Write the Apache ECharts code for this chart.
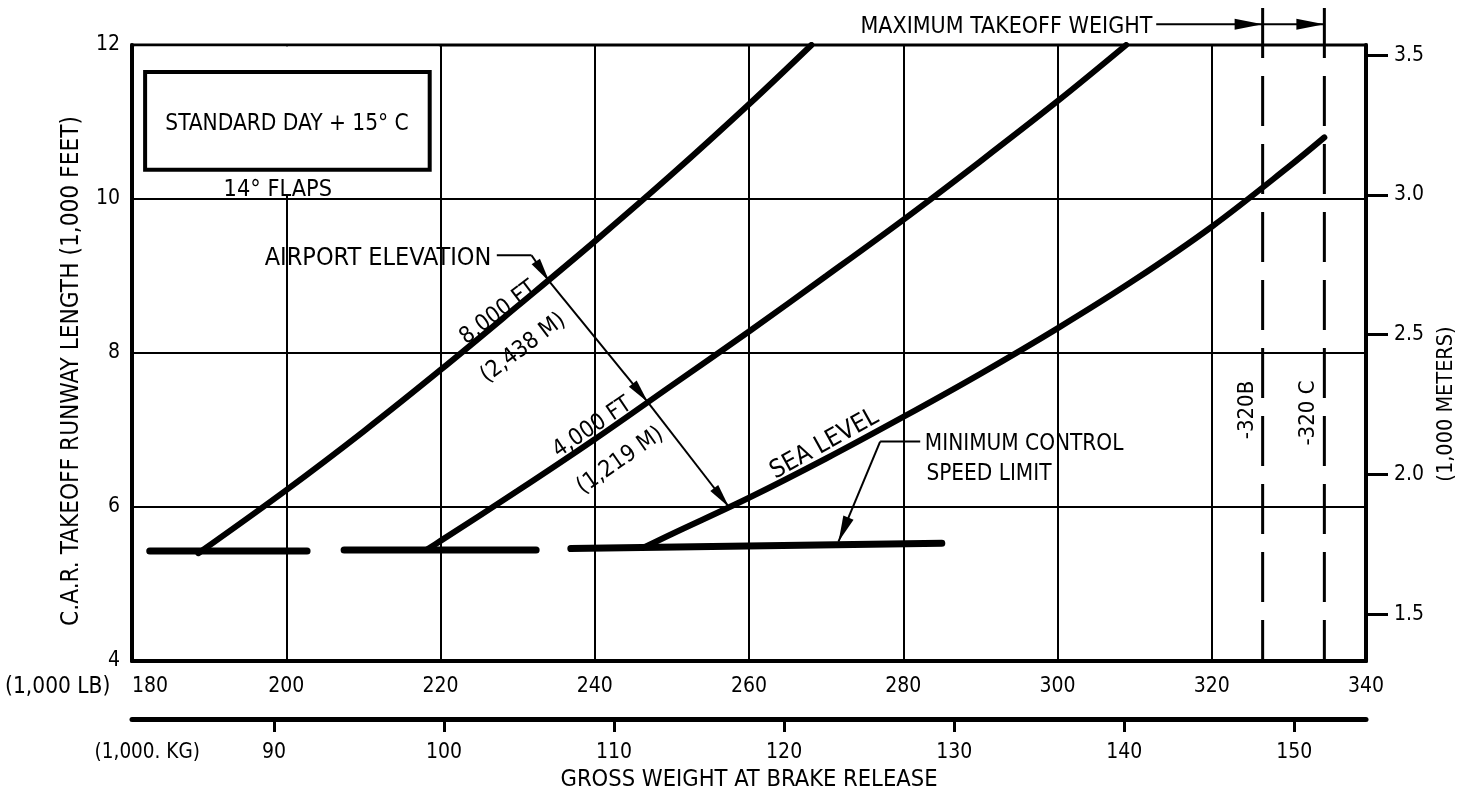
<!DOCTYPE html>
<html><head><meta charset="utf-8">
<script src="https://cdn.jsdelivr.net/npm/echarts@6/dist/echarts.min.js"></script>
<style>html,body{margin:0;padding:0;background:#fff}#c{width:1466px;height:791px}</style>
</head><body><div id="c"></div>
<script>
const FONT = '"DejaVu Sans Condensed","Liberation Sans Narrow",sans-serif';

// ---- axes / ticks ----
const lbMin = 180, lbMax = 340, lbStep = 20;          // 1,000 LB
const ftMin = 4, ftMax = 12, ftStep = 2;               // 1,000 FT
const LB_PER_KG = 2.20462;
const kgTicks = [90, 100, 110, 120, 130, 140, 150];    // 1,000 KG
const meterTicks = [1.5, 2.0, 2.5, 3.0, 3.5];          // 1,000 M (as drawn)
const meterMin = 1.333, meterMax = 3.536;              // right scale extent as drawn

// ---- curves: [gross weight 1,000 lb, runway length 1,000 ft] ----
const elev8000 = [[188.6,5.40],[200,6.22],[210,6.98],[220,7.78],[230,8.61],[240,9.45],[250,10.32],[260,11.23],[268.1,12.0]];
const elev4000 = [[218.3,5.45],[220,5.56],[230,6.21],[240,6.88],[250,7.58],[260,8.28],[270,9.0],[280,9.73],[290,10.49],[300,11.27],[308.9,12.0]];
const seaLevel = [[246.5,5.48],[250,5.65],[260,6.12],[270,6.63],[280,7.17],[290,7.73],[300,8.32],[310,8.95],[320,9.64],[330,10.42],[334.6,10.80]];
const minCtrlA = [[182.3,5.43],[202.7,5.43]];
const minCtrlB = [[207.5,5.44],[232.4,5.44]];
const minCtrlC = [[236.9,5.46],[285.0,5.53]];
const mtow320B = 326.6, mtow320C = 334.6;

const chart = echarts.init(document.getElementById('c'), null, {renderer: 'canvas'});

const curve = (name, data) => ({
  name, type: 'line', data, xAxisIndex: 0, yAxisIndex: 0, symbol: 'none', smooth: 0.35,
  lineStyle: {color: '#000', width: 6, cap: 'round'}, z: 5
});
const flat = (name, data) => ({
  name, type: 'line', data, xAxisIndex: 0, yAxisIndex: 0, symbol: 'none',
  lineStyle: {color: '#000', width: 7, cap: 'round'}, z: 5
});
const mtow = (name, x) => ({
  name, type: 'line', data: [[x, 12.48], [x, ftMin]], xAxisIndex: 0, yAxisIndex: 0, symbol: 'none', clip: false,
  lineStyle: {color: '#000', width: 3, type: [50, 18]}, z: 4
});

const s8000 = curve('8,000 FT', elev8000);
s8000.markArea = {silent: true, itemStyle: {color: '#fff'}, data: [[{coord: [180.3, 10.04]}, {coord: [219.8, 11.98]}]]};

chart.setOption({
  backgroundColor: '#fff',
  animation: false,
  grid: {left: 132, right: 100, top: 45, bottom: 130, containLabel: false, outerBoundsMode: 'none',
         show: true, borderColor: '#000', borderWidth: 3, backgroundColor: 'transparent'},
  xAxis: [
    {type: 'value', gridIndex: 0, position: 'bottom', min: lbMin, max: lbMax, interval: lbStep,
     axisLine: {show: true, onZero: false, lineStyle: {color: '#000', width: 4}},
     axisTick: {show: false},
     axisLabel: {color: '#000', fontFamily: FONT, fontSize: 21, margin: 15, alignMinLabel: 'left'},
     splitLine: {show: true, lineStyle: {color: '#000', width: 2}}},
    {type: 'value', gridIndex: 0, position: 'bottom', offset: 58, min: lbMin / LB_PER_KG, max: lbMax / LB_PER_KG,
     name: 'GROSS WEIGHT AT BRAKE RELEASE', nameLocation: 'middle', nameGap: 45,
     nameTextStyle: {color: '#000', fontFamily: FONT, fontSize: 23.5},
     axisLine: {show: true, onZero: false, lineStyle: {color: '#000', width: 5}},
     axisTick: {show: true, customValues: kgTicks, length: 13, lineStyle: {color: '#000', width: 3}},
     axisLabel: {color: '#000', fontFamily: FONT, fontSize: 21, margin: 23, customValues: kgTicks},
     splitLine: {show: false}}
  ],
  yAxis: [
    {type: 'value', gridIndex: 0, position: 'left', min: ftMin, max: ftMax, interval: ftStep,
     name: 'C.A.R. TAKEOFF RUNWAY LENGTH (1,000 FEET)', nameLocation: 'middle', nameGap: 48,
     nameTextStyle: {color: '#000', fontFamily: FONT, fontSize: 24.2, padding: [0, 36, 0, 0]},
     axisLine: {show: true, onZero: false, lineStyle: {color: '#000', width: 4}},
     axisTick: {show: false},
     axisLabel: {color: '#000', fontFamily: FONT, fontSize: 21, margin: 12},
     splitLine: {show: true, lineStyle: {color: '#000', width: 2}}},
    {type: 'value', gridIndex: 0, position: 'right', min: meterMin, max: meterMax,
     name: '(1,000 METERS)', nameLocation: 'middle', nameGap: 58,
     nameTextStyle: {color: '#000', fontFamily: FONT, fontSize: 21.5, padding: [0, 102, 0, 0]},
     axisLine: {show: true, onZero: false, lineStyle: {color: '#000', width: 4}},
     axisTick: {show: true, inside: false, length: 22, customValues: meterTicks, lineStyle: {color: '#000', width: 3}},
     axisLabel: {color: '#000', fontFamily: FONT, fontSize: 21, margin: 28, customValues: meterTicks,
                 formatter: v => Number(v).toFixed(1)},
     splitLine: {show: false}}
  ],
  series: [
    s8000,
    curve('4,000 FT', elev4000),
    curve('SEA LEVEL', seaLevel),
    flat('MIN CONTROL A', minCtrlA),
    flat('MIN CONTROL B', minCtrlB),
    flat('MIN CONTROL C', minCtrlC),
    mtow('-320B', mtow320B),
    mtow('-320 C', mtow320C)
  ]
});

// ---- annotations (anchored in data coordinates) ----
const notes = {
  box: [[181.7, 11.65], [218.6, 10.38]],
  boxText: {text: 'STANDARD DAY + 15° C', at: [200.1, 11.01], size: 22.5},
  flaps: {text: '14° FLAPS', at: [198.9, 10.16], size: 23.3},
  airport: {text: 'AIRPORT ELEVATION', at: [211.9, 9.27], size: 25},
  airportLeader: [[227.3, 9.27], [231.8, 9.27]],
  airportTips: [[234.1, 8.93], [246.9, 7.36], [257.4, 6.0]],
  curveLabels: [
    {text: '8,000 FT', at: [227.3, 8.55], rot: 37, size: 23},
    {text: '(2,438 M)', at: [230.5, 8.09], rot: 37, size: 23},
    {text: '4,000 FT', at: [239.5, 7.06], rot: 34, size: 23},
    {text: '(1,219 M)', at: [243.1, 6.63], rot: 35, size: 23},
    {text: 'SEA LEVEL', at: [269.6, 6.85], rot: 29, size: 25}
  ],
  minCtrl: [{text: 'MINIMUM CONTROL', at: [282.8, 6.85]}, {text: 'SPEED LIMIT', at: [283.0, 6.46]}],
  minCtrlLeader: [[282.2, 6.85], [277.0, 6.85], [271.6, 5.55]],
  mtowText: {text: 'MAXIMUM TAKEOFF WEIGHT', at: [312.3, 12.27], size: 23},
  mtowArrow: [[312.8, 12.27], [326.6, 12.27], [334.6, 12.27]],
  variants: [{text: '-320B', at: [324.2, 7.26]}, {text: '-320 C', at: [332.2, 7.22]}],
  lbUnit: {text: '(1,000 LB)', at: [177.2, 3.70]},
  kgUnit: {text: '(1,000. KG)', at: [188.8, 2.844]}
};

function px(p) { return chart.convertToPixel({xAxisIndex: 0, yAxisIndex: 0}, p); }
function txt(text, at, size, opts) {
  opts = opts || {};
  const p = px(at);
  const al = opts.align || 'center';
  const rot = (opts.rot || 0) * Math.PI / 180;
  // nudge so the capitals (not the em box) are centred on the anchor
  const d = size * 0.12;
  return {type: 'text', x: p[0] + d * Math.sin(rot), y: p[1] + d * Math.cos(rot), rotation: rot, z: 20,
    style: {text, font: size + 'px ' + FONT, fill: '#000', align: al, textAlign: al, verticalAlign: 'middle', textVerticalAlign: 'middle'}};
}
function seg(a, b, w) {
  const p = px(a), q = px(b);
  return {type: 'line', z: 20, shape: {x1: p[0], y1: p[1], x2: q[0], y2: q[1]}, style: {stroke: '#000', lineWidth: w}};
}
function head(tip, from, len, half) {
  const t = px(tip), f = px(from);
  const dx = t[0] - f[0], dy = t[1] - f[1], L = Math.hypot(dx, dy), ux = dx / L, uy = dy / L;
  const bx = t[0] - ux * len, by = t[1] - uy * len;
  return {type: 'polygon', z: 21, shape: {points: [[t[0], t[1]], [bx - uy * half, by + ux * half], [bx + uy * half, by - ux * half]]}, style: {fill: '#000'}};
}

const g = [];
const b0 = px(notes.box[0]), b1 = px(notes.box[1]);
g.push({type: 'rect', z: 20, shape: {x: b0[0], y: b0[1], width: b1[0] - b0[0], height: b1[1] - b0[1]}, style: {fill: '#fff', stroke: '#000', lineWidth: 4}});
g.push(txt(notes.boxText.text, notes.boxText.at, notes.boxText.size));
g.push(txt(notes.flaps.text, notes.flaps.at, notes.flaps.size));
g.push(txt(notes.airport.text, notes.airport.at, notes.airport.size));
g.push(seg(notes.airportLeader[0], notes.airportLeader[1], 2));
let prev = notes.airportLeader[1];
notes.airportTips.forEach(t => { g.push(seg(prev, t, 2)); g.push(head(t, prev, 24, 5)); prev = t; });
notes.curveLabels.forEach(c => g.push(txt(c.text, c.at, c.size, {rot: c.rot})));
notes.minCtrl.forEach(c => g.push(txt(c.text, c.at, 22.4, {align: 'left'})));
g.push(seg(notes.minCtrlLeader[0], notes.minCtrlLeader[1], 2));
g.push(seg(notes.minCtrlLeader[1], notes.minCtrlLeader[2], 2));
g.push(head(notes.minCtrlLeader[2], notes.minCtrlLeader[1], 26, 5.5));
g.push(txt(notes.mtowText.text, notes.mtowText.at, notes.mtowText.size, {align: 'right'}));
g.push(seg(notes.mtowArrow[0], notes.mtowArrow[1], 2));
g.push(head(notes.mtowArrow[1], notes.mtowArrow[0], 28, 5.5));
g.push(seg(notes.mtowArrow[1], notes.mtowArrow[2], 2));
g.push(head(notes.mtowArrow[2], notes.mtowArrow[1], 28, 5.5));
notes.variants.forEach(v => g.push(txt(v.text, v.at, 22, {rot: 90})));
g.push(txt(notes.lbUnit.text, notes.lbUnit.at, 22.5, {align: 'right'}));
g.push(txt(notes.kgUnit.text, notes.kgUnit.at, 20.5, {align: 'right'}));

chart.setOption({graphic: {elements: g}});
</script></body></html>
